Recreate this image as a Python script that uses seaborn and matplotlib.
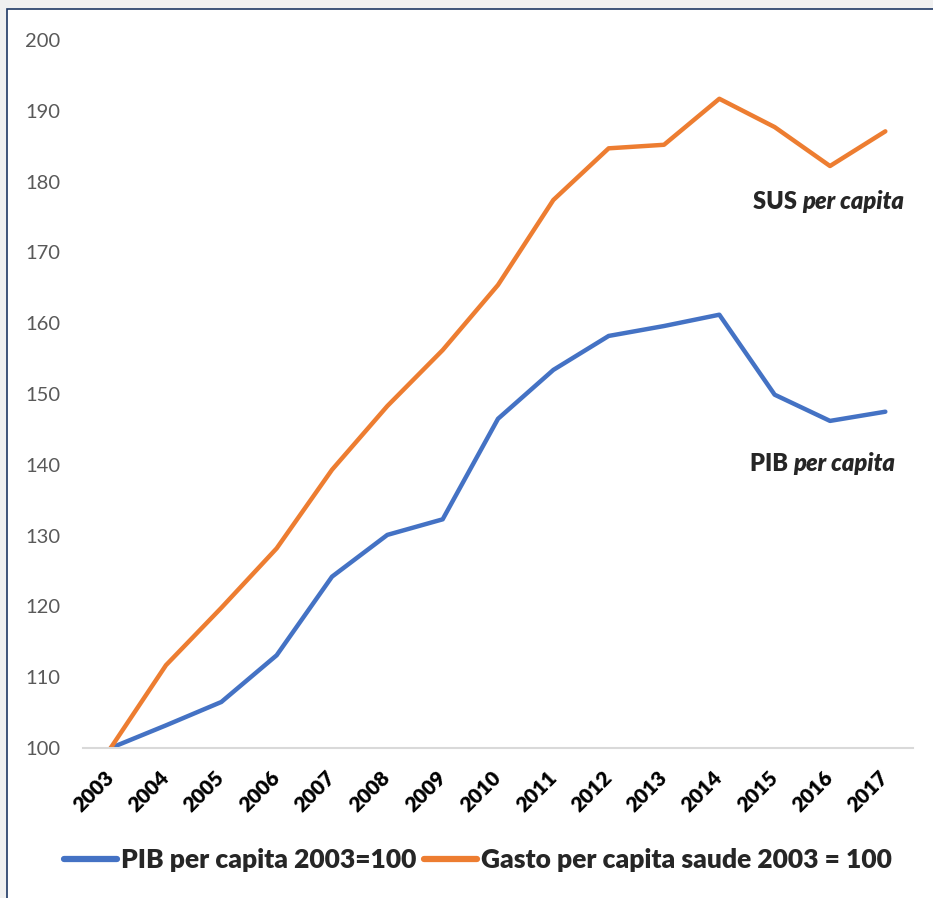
import seaborn as sns
import matplotlib.pyplot as plt
import matplotlib.patches as mpatches
import matplotlib.transforms as mtransforms
from matplotlib.lines import Line2D
import pandas as pd

years = list(range(2003, 2018))
pib = [100, 103.2, 106.5, 113.1, 124.2, 130.1, 132.3, 146.5, 153.4, 158.2, 159.6, 161.2, 149.9, 146.2, 147.5]
gasto = [100, 111.7, 119.8, 128.2, 139.3, 148.3, 156.2, 165.4, 177.4, 184.7, 185.2, 191.7, 187.7, 182.2, 187.1]
series_names = ['PIB per capita 2003=100', 'Gasto per capita saude 2003 = 100']
colors = ['#4472C4', '#ED7D31']

df = pd.DataFrame({
    'ano': years * 2,
    'valor': pib + gasto,
    'serie': [series_names[0]] * len(years) + [series_names[1]] * len(years),
})

sns.set_style('white')
plt.rcParams['font.family'] = ['Lato', 'DejaVu Sans']

fig = plt.figure(figsize=(9.33, 8.98), dpi=100, facecolor='#f0f0f0')
# white chart area with dark border (Excel-like)
fig.patches.append(mpatches.Rectangle((7 / 933, -0.02), 1.05, (898 - 9) / 898 + 0.02,
                                      transform=fig.transFigure, facecolor='white',
                                      edgecolor='#1f3864', linewidth=1.2, zorder=-1))
ax = fig.add_axes([83 / 933, 150 / 898, 830 / 933, 708 / 898])
ax.set_facecolor('none')

sns.lineplot(data=df, x='ano', y='valor', hue='serie', palette=colors,
             linewidth=3.2, ax=ax, legend=False)

ax.set_xlim(2002.5, 2017.5)
ax.set_ylim(100, 200)
ax.set_yticks(range(100, 201, 10))
ax.set_xticks(years)
ax.set_xticklabels([str(y) for y in years], rotation=45, ha='right', va='center',
                   rotation_mode='anchor', fontsize=15, fontweight='heavy', color='black')
offset = mtransforms.ScaledTranslation(6 / 100, 0, fig.dpi_scale_trans)
for lbl in ax.get_xticklabels():
    lbl.set_transform(lbl.get_transform() + offset)
ax.tick_params(axis='y', length=0, labelsize=14.5, labelcolor='#595959', pad=16.5)
ax.tick_params(axis='x', length=0, pad=19)
ax.set_xlabel('')
ax.set_ylabel('')
for s in ['top', 'right', 'left']:
    ax.spines[s].set_visible(False)
ax.spines['bottom'].set_color('#d9d9d9')
ax.spines['bottom'].set_linewidth(1.5)

t1 = ax.text(2014.6, 177.1, 'SUS ', fontsize=17, fontweight='heavy', ha='left', va='center')
ax.annotate('per capita', xy=(1, 0), xycoords=t1, va='bottom', fontsize=17,
            fontweight='heavy', style='italic')
t2 = ax.text(2014.55, 140.1, 'PIB ', fontsize=17, fontweight='heavy', ha='left', va='center')
ax.annotate('per capita', xy=(1, 0), xycoords=t2, va='bottom', fontsize=17,
            fontweight='heavy', style='italic')

handles = [Line2D([0], [0], color=c, linewidth=4.5) for c in colors]
fig.legend(handles, series_names, loc='center', bbox_to_anchor=(0.512, 38 / 898),
           ncol=2, frameon=False, prop={'weight': 'heavy', 'size': 19},
           handlelength=2.0, handletextpad=0.15, columnspacing=0.3)

fig.savefig('out.png', dpi=100, facecolor=fig.get_facecolor())
